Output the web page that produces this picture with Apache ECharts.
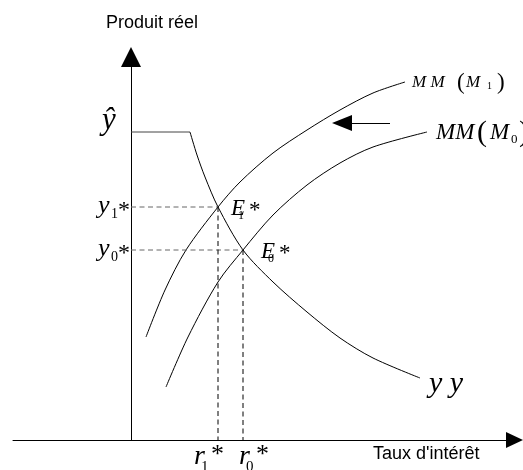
<!DOCTYPE html>
<html>
<head>
<meta charset="UTF-8">
<title>Produit réel / Taux d'intérêt</title>
<script src="https://cdn.jsdelivr.net/npm/echarts@6/dist/echarts.min.js"></script>
<style>
html, body { margin: 0; padding: 0; background: #fff; }
#main { width: 523px; height: 470px; }
</style>
</head>
<body>
<div id="main"></div>
<script>
// courbe yy : palier au produit potentiel puis décroissante
var yyFlat = [[0, 30.8], [5.9, 30.8]];
var yyCurve = [[5.9, 30.8], [6.6, 28.5], [7.4, 26.3], [8.7, 23.3], [11.2, 19.0], [14.2, 15.8],
    [17.6, 12.8], [20.9, 10.2], [24.2, 8.2], [28.9, 6.2]];
// courbes MM avant / après la hausse de la masse monétaire
var mm1 = [[1.5, 10.3], [3.4, 15.0], [5.5, 19.0], [8.7, 23.3], [10.9, 25.8], [14.2, 28.7],
    [17.6, 31.0], [20.9, 33.0], [24.2, 34.7], [27.4, 35.8]];
var mm0 = [[3.5, 5.3], [5.7, 10.3], [8.7, 15.8], [11.2, 19.0], [14.2, 22.5], [17.6, 25.5],
    [20.9, 27.7], [24.2, 29.3], [29.6, 30.8]];
// équilibres E1* et E0*
var eq1 = [8.7, 23.3];
var eq0 = [11.2, 19.0];
// flèche de déplacement de MM
var shiftArrow = [[25.9, 31.7], [21.1, 31.7]];

function lab(text, x, base, size, opt) {
    opt = opt || {};
    return {
        type: 'text',
        x: x,
        y: base - size * 0.32,
        z: 10,
        style: {
            text: text,
            fill: '#000',
            font: (opt.upright ? '' : 'italic ') + size + 'px ' + (opt.sans ? '"Liberation Sans"' : '"Liberation Serif"'),
            align: 'left',
            verticalAlign: 'middle'
        }
    };
}

function curve(data, smooth, color) {
    return {
        type: 'line', data: data, smooth: smooth,
        symbol: 'none', silent: true,
        lineStyle: {color: color || '#000', width: 1}
    };
}

function dash(data, color) {
    return {
        type: 'line', data: data, symbol: 'none', silent: true,
        lineStyle: {color: color, width: 1, type: [5, 3.5]}
    };
}

var myChart = echarts.init(document.getElementById('main'));

myChart.setOption({
    animation: false,
    grid: {left: 13, right: 8.5, top: 57, bottom: 30},
    xAxis: {
        type: 'value', min: -11.8, max: 38.35,
        axisLine: {onZero: true, symbol: ['none', 'triangle'], symbolSize: [16, 17], lineStyle: {color: '#000', width: 1}},
        axisTick: {show: false}, axisLabel: {show: false}, splitLine: {show: false}
    },
    yAxis: {
        type: 'value', min: 0, max: 38.3,
        axisLine: {show: true, onZero: true, symbol: ['none', 'triangle'], symbolSize: [20, 20], lineStyle: {color: '#000', width: 1}},
        axisTick: {show: false}, axisLabel: {show: false}, splitLine: {show: false}
    },
    series: [
        curve(yyFlat, false, '#444'),
        curve(yyCurve, 0.3),
        curve(mm1, 0.3),
        curve(mm0, 0.3),
        dash([[0, eq1[1]], eq1], '#666'),
        dash([[0, eq0[1]], eq0], '#666'),
        dash([eq1, [eq1[0], 0]], '#000'),
        dash([eq0, [eq0[0], 0]], '#000'),
        {
            type: 'line', data: [], silent: true,
            markLine: {
                silent: true, animation: false,
                symbol: ['none', 'triangle'], symbolSize: [16, 20],
                label: {show: false},
                lineStyle: {color: '#000', width: 1, type: 'solid'},
                data: [[{coord: shiftArrow[0]}, {coord: shiftArrow[1]}]]
            }
        }
    ],
    graphic: [
        lab('Produit réel', 106, 29, 18, {sans: true, upright: true}),
        lab('Taux d\'intérêt', 373, 460, 18, {sans: true, upright: true}),
        lab('ŷ', 102, 131, 31),
        lab('y', 98, 214, 26), lab('1', 111, 219, 14, {upright: true}), lab('*', 118, 218, 24, {upright: true}),
        lab('y', 98, 257, 26), lab('0', 111, 262, 14, {upright: true}), lab('*', 118, 261, 24, {upright: true}),
        lab('E', 231, 216, 23), lab('1', 238, 220, 12, {upright: true}), lab('*', 249, 218, 23, {upright: true}),
        lab('E', 261, 259, 23), lab('0', 268, 263, 12, {upright: true}), lab('*', 279, 261, 23, {upright: true}),
        lab('r', 194, 466, 28), lab('1', 201, 472, 15, {upright: true}), lab('*', 211, 463, 26, {upright: true}),
        lab('r', 239, 466, 28), lab('0', 246, 472, 15, {upright: true}), lab('*', 256, 463, 26, {upright: true}),
        lab('M M', 412, 88, 17), lab('(', 457, 90, 23, {upright: true}), lab('M', 466, 88, 17),
        lab('1', 487, 90, 10, {upright: true}), lab(')', 497, 90, 23, {upright: true}),
        lab('MM', 436, 140, 23), lab('(', 477, 143, 30, {upright: true}), lab('M', 490, 140, 23),
        lab('0', 511, 144, 13, {upright: true}), lab(')', 519, 143, 30, {upright: true}),
        lab('y y', 429, 394, 30)
    ]
});
</script>
</body>
</html>
